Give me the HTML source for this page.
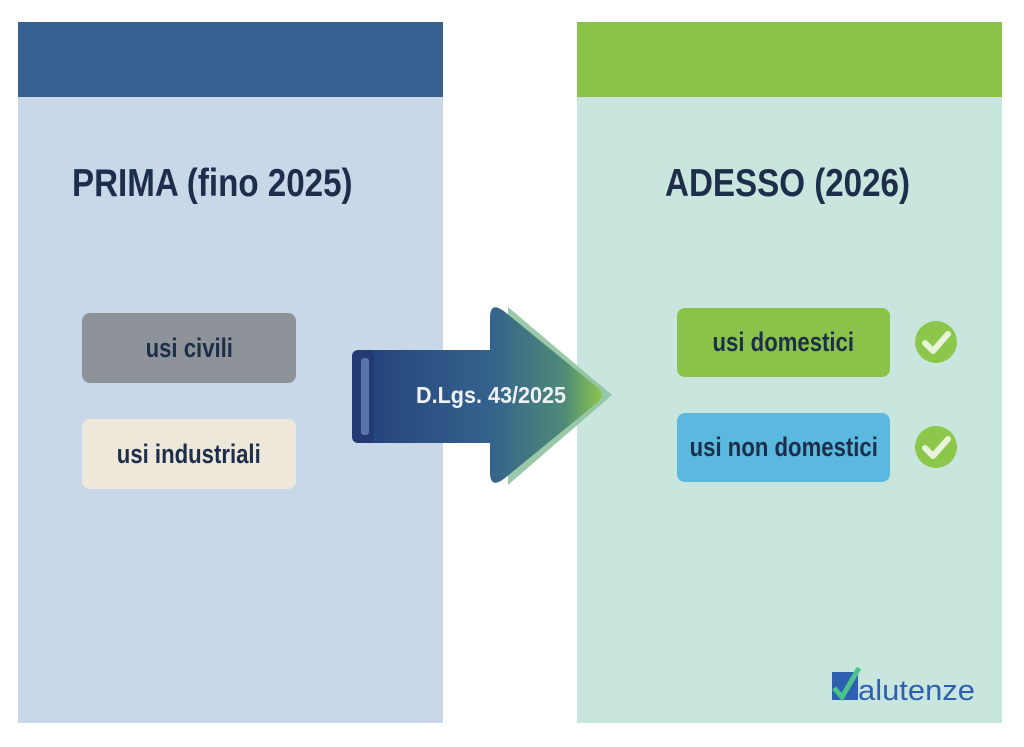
<!DOCTYPE html>
<html><head><meta charset="utf-8"><style>
body{margin:0;width:1024px;height:747px;background:#fff;position:relative;overflow:hidden;font-family:"Liberation Sans",sans-serif;}
.p{position:absolute;top:22px;height:701px;}
.hd{position:absolute;left:0;top:0;width:100%;height:75px;}
.t{position:absolute;top:140px;font-weight:bold;font-size:39px;color:#1c2e4a;transform:scaleX(0.85);transform-origin:left;white-space:nowrap;}
.b{position:absolute;border-radius:8px;display:flex;align-items:center;justify-content:center;font-weight:bold;font-size:27px;color:#1c2e4a;white-space:nowrap;}
.b span{display:inline-block;transform:scaleX(0.82);}
.c{position:absolute;width:42px;height:42px;border-radius:50%;background:#8cc64a;}
</style></head><body>
<div class="p" style="left:18px;width:425px;background:#c9d8e9;">
  <div class="hd" style="background:#386192;"></div>
  <div class="t" style="left:54px;">PRIMA (fino 2025)</div>
</div>
<div class="p" style="left:577px;width:425px;background:#c8e6dd;">
  <div class="hd" style="background:#8bc34a;"></div>
  <div class="t" style="left:88px;">ADESSO (2026)</div>
</div>
<div class="b" style="left:82px;top:313px;width:214px;height:70px;background:#8d9398;"><span>usi civili</span></div>
<div class="b" style="left:82px;top:419px;width:214px;height:70px;background:#eee8da;"><span>usi industriali</span></div>
<div class="b" style="left:677px;top:308px;width:213px;height:69px;background:#8bc34a;"><span>usi domestici</span></div>
<div class="b" style="left:677px;top:413px;width:213px;height:69px;background:#5bb8de;"><span>usi non domestici</span></div>
<div class="c" style="left:915px;top:321px;"></div>
<div class="c" style="left:915px;top:426px;"></div>
<svg style="position:absolute;left:0;top:0" width="1024" height="747">
  <defs>
    <linearGradient id="g" x1="0" x2="1" y1="0" y2="0">
      <stop offset="0" stop-color="#243f7a"/>
      <stop offset="0.55" stop-color="#34628c"/>
      <stop offset="0.85" stop-color="#4f8a78"/>
      <stop offset="1" stop-color="#8cc64a"/>
    </linearGradient>
  </defs>
  <path d="M508 307 L612 395 L508 485 Z" fill="#8fc3a0" opacity="0.9"/>
  <path d="M360 350 L490 350 L490 318 Q490 300 505 312 L598 388 Q606 395 598 402 L505 478 Q490 490 490 472 L490 443 L360 443 Q352 443 352 435 L352 358 Q352 350 360 350 Z" fill="url(#g)"/>
  <rect x="352" y="350" width="22" height="93" rx="6" fill="#233a72"/>
  <rect x="361" y="358" width="8" height="77" rx="3" fill="#5a74a8"/>
  <text x="416" y="403" textLength="150" lengthAdjust="spacingAndGlyphs" font-family="Liberation Sans, sans-serif" font-weight="bold" font-size="23" fill="#eef2f7">D.Lgs. 43/2025</text>
  <path d="M925 343 L933 351 L948 334" stroke="#e8f3dc" stroke-width="6" fill="none" stroke-linecap="round" stroke-linejoin="round"/>
  <path d="M925 448 L933 456 L948 439" stroke="#e8f3dc" stroke-width="6" fill="none" stroke-linecap="round" stroke-linejoin="round"/>
  <rect x="832" y="672" width="26" height="28" fill="#2f5fb0"/>
  <path d="M834 688 L842 697 L859 668" stroke="#4cc38a" stroke-width="5" fill="none"/>
  <text x="858" y="700" textLength="117" lengthAdjust="spacingAndGlyphs" font-family="Liberation Sans, sans-serif" font-size="29" fill="#2f5fb0">alutenze</text>
</svg>
</body></html>
